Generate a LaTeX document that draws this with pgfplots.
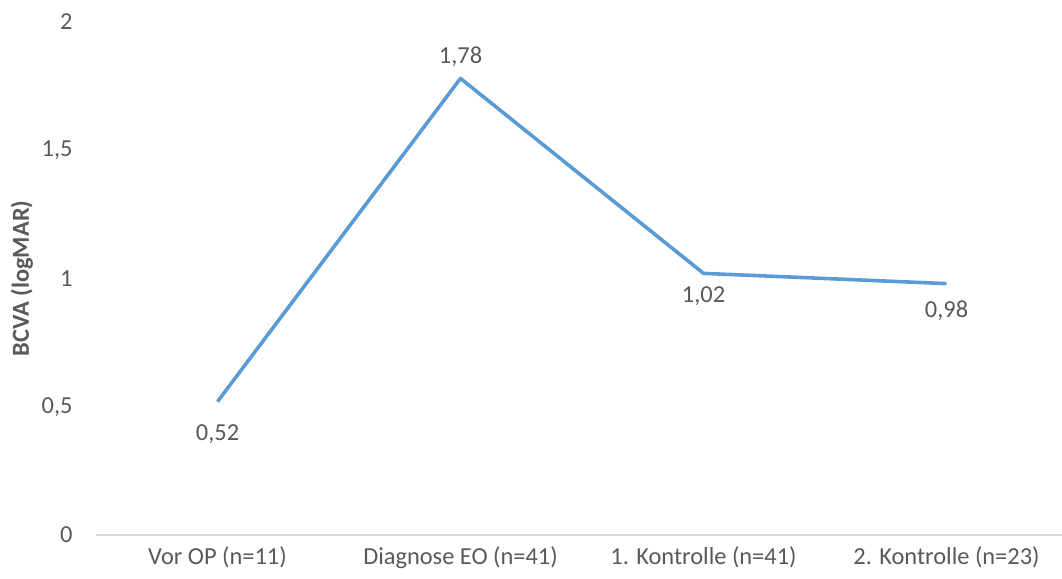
\documentclass[border=0pt]{standalone}
\usepackage{pgfplots}
\pgfplotsset{compat=1.18}
\usepackage{pgfplotstable}
\usepackage{fontspec}
\setmainfont{Carlito}
\definecolor{linblue}{HTML}{5B9BD5}
\definecolor{txtgray}{HTML}{595959}
\definecolor{axgray}{HTML}{D9D9D9}

% x, BCVA, vertical offset of the value label (bp)
\pgfplotstableread{
x y off
0 0.52 -33
1 1.78 22
2 1.02 -23
3 0.98 -27
}\bcva

\begin{document}
\begin{tikzpicture}
\path[use as bounding box] (0,0) rectangle (1062bp,579bp);
\begin{axis}[
  at={(96bp,44bp)}, anchor=south west,
  scale only axis,
  width=972bp, height=513bp,
  xmin=-0.5, xmax=3.5,
  ymin=0, ymax=2,
  axis x line=bottom, axis y line=left,
  x axis line style={axgray, line width=1.2pt, -},
  y axis line style={draw=none},
  xtick={0,1,2,3},
  xticklabels={Vor OP (n=11), Diagnose EO (n=41), 1. Kontrolle (n=41), 2. Kontrolle (n=23)},
  major tick length=0pt,
  ytick={0,0.5,1,1.5,2},
  yticklabel style={/pgf/number format/use comma},
  /pgf/number format/assume math mode=true,
  ticklabel style={font=\fontsize{24.5}{24.5}\selectfont, text=txtgray},
  xticklabel style={yshift=-8bp},
  yticklabel style={xshift=-20bp},
  ylabel={\textbf{BCVA (logMAR)}},
  every axis y label/.style={at={(rel axis cs:0,0.5)}, xshift=-74bp, rotate=90,
    anchor=center, font=\fontsize{24.5}{24.5}\selectfont, text=txtgray},
  clip=false,
]
\addplot[linblue, line width=3.6pt, line join=round,
  nodes near coords={\pgfmathprintnumber[fixed,fixed zerofill,precision=2,use comma]{\pgfplotspointmeta}},
  visualization depends on={\thisrow{off}\as\off},
  every node near coord/.append style={anchor=center, yshift=\off bp,
    font=\fontsize{24.5}{24.5}\selectfont, text=txtgray},
] table[x=x, y=y] {\bcva};
\end{axis}
\end{tikzpicture}
\end{document}
